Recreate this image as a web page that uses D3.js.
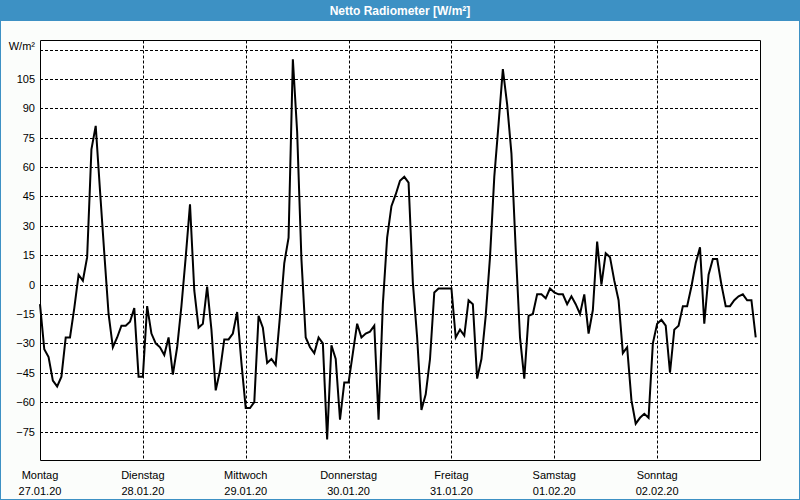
<!DOCTYPE html>
<html><head><meta charset="utf-8">
<script src="https://cdn.jsdelivr.net/npm/d3@7"></script>
<style>
html,body{margin:0;padding:0;background:#fbfdfb;}
svg{display:block;}
text{font-family:"Liberation Sans",Arial,sans-serif;}
</style></head>
<body>
<svg id="c" width="800" height="500"></svg>
<script>
const title = "Netto Radiometer [W/m²]";
const unitLabel = "W/m²";
const dayNames = ["Montag","Dienstag","Mittwoch","Donnerstag","Freitag","Samstag","Sonntag"];
const dayDates = ["27.01.20","28.01.20","29.01.20","30.01.20","31.01.20","01.02.20","02.02.20"];
const yTicks = [105,90,75,60,45,30,15,0,-15,-30,-45,-60,-75];
const yGrid = [120,105,90,75,60,45,30,15,0,-15,-30,-45,-60,-75];
// hourly values, 27.01.20 00:00 .. 02.02.20 23:00
const values = [
 -10,-33,-37,-49,-52,-47,-27,-27,-12,5,2,14,69,81,48,16,-15,-32,-27,-21,-21,-19,-12,-47,
 -47,-11,-25,-30,-32,-36,-27,-46,-32,-11,14,41,-3,-22,-20,-1,-23,-54,-44,-28,-28,-25,-14,-40,
 -63,-63,-60,-16,-22,-40,-38,-41,-16,11,24,115,78,13,-27,-32,-35,-27,-30,-79,-31,-38,-69,-50,
 -50,-35,-20,-27,-25,-24,-21,-69,-10,24,40,46,53,55,52,1,-27,-64,-56,-38,-4,-2,-2,-2,
 -2,-27,-23,-26,-8,-10,-48,-38,-16,14,55,82,110,92,67,18,-27,-48,-16,-15,-5,-5,-7,-2,
 -4,-5,-5,-10,-6,-10,-15,-5,-25,-13,22,0,16,14,2,-8,-35,-32,-59,-71,-68,-66,-68,-30,
 -20,-18,-21,-45,-23,-21,-11,-11,-1,11,19,-20,5,13,13,0,-11,-11,-8,-6,-5,-8,-8,-27
];

const svg = d3.select("#c");
const W = 800, H = 500;
const L = 40, R = 760, T = 40.5, B = 460.5;

// window frame
svg.append("rect").attr("x",0.5).attr("y",0.5).attr("width",W-1).attr("height",H-1)
  .attr("fill","#fbfdfb").attr("stroke","#3d91c4").attr("stroke-width",1);
svg.append("rect").attr("x",0).attr("y",0).attr("width",W).attr("height",21).attr("fill","#3d91c4");
svg.append("text").attr("x",400).attr("y",15).attr("text-anchor","middle")
  .attr("fill","#ffffff").attr("font-weight","bold").attr("font-size","12px").text(title);

const x = d3.scaleLinear().domain([0,168]).range([L,R]);
const y = d3.scaleLinear().domain([-75,120]).range([431.5,49.5]);

const plot = svg.append("g");
plot.append("rect").attr("x",L).attr("y",T).attr("width",R-L).attr("height",B-T).attr("fill","#ffffff");

// horizontal grid
plot.selectAll("line.hg").data(yGrid).join("line").attr("class","hg")
  .attr("x1",L).attr("x2",R).attr("y1",d=>Math.round(y(d))+0.5).attr("y2",d=>Math.round(y(d))+0.5)
  .attr("stroke","#000").attr("stroke-width",1).attr("stroke-dasharray","3,2");
// vertical day grid
const dayIdx = d3.range(1,7);
plot.selectAll("line.vg").data(dayIdx).join("line").attr("class","vg")
  .attr("x1",d=>Math.round(x(d*24))+0.5).attr("x2",d=>Math.round(x(d*24))+0.5).attr("y1",T).attr("y2",B)
  .attr("stroke","#000").attr("stroke-width",1).attr("stroke-dasharray","3,2");

// y axis labels
const yAxis = d3.axisLeft(y).tickValues(yTicks).tickSize(0).tickPadding(5).tickFormat(d3.format("d"));
const ya = svg.append("g").attr("transform",`translate(${L},0)`).call(yAxis);
ya.select(".domain").remove();
ya.selectAll("text").attr("font-size","11px").attr("fill","#000").attr("font-family","'Liberation Sans',Arial,sans-serif");
svg.append("text").attr("x",35).attr("y",50).attr("text-anchor","end").attr("font-size","11px").attr("fill","#000").text(unitLabel);

// x axis labels
const xa = svg.append("g");
xa.selectAll("text.dn").data(dayNames).join("text").attr("class","dn")
  .attr("x",(d,i)=>x(i*24)).attr("y",479).attr("text-anchor","middle").attr("font-size","11px").text(d=>d);
xa.selectAll("text.dd").data(dayDates).join("text").attr("class","dd")
  .attr("x",(d,i)=>x(i*24)).attr("y",495).attr("text-anchor","middle").attr("font-size","11px").text(d=>d);

// data line
const line = d3.line().x((d,i)=>x(i)).y(d=>y(d));
plot.append("path").datum(values).attr("d",line).attr("fill","none")
  .attr("stroke","#000").attr("stroke-width",2).attr("stroke-linejoin","miter");

// frame
plot.append("path").attr("d",`M${L+0.5},${T} V${B} H${R+0.5} V${T} H${L+0.5}`)
  .attr("fill","none").attr("stroke","#000").attr("stroke-width",1);
</script>
</body></html>
